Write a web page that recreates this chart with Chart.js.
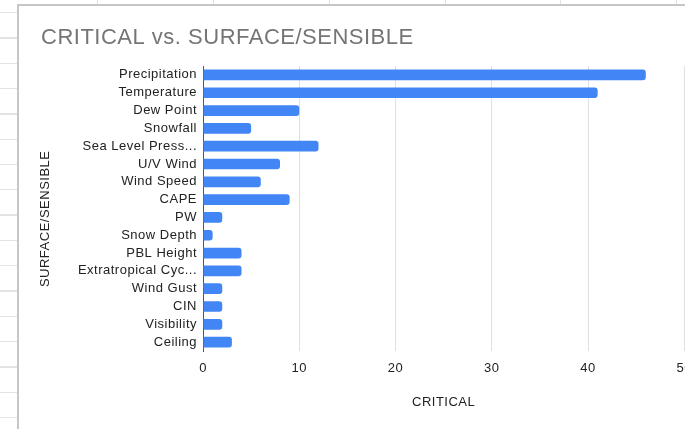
<!DOCTYPE html>
<html>
<head>
<meta charset="utf-8">
<script src="https://cdn.jsdelivr.net/npm/chart.js@4"></script>
<style>
  html, body { margin: 0; padding: 0; background: #fff; overflow: hidden; width: 685px; height: 429px; }
  #sheetLeft { position: absolute; left: 0; top: 0; width: 17px; height: 429px;
    background: repeating-linear-gradient(to bottom, transparent 0px, transparent 12px, #e3e3e3 12px, #e3e3e3 13.3px, transparent 13.3px, transparent 25.3px); }
  #sheetTop { position: absolute; left: 0; top: 0; width: 685px; height: 4px; }
  .vline { position: absolute; top: 0; width: 1px; height: 4px; background: #e3e3e3; }
  #frame { position: absolute; left: 17px; top: 4px; width: 800px; height: 600px;
    border-left: 2px solid #c6c6c6; border-top: 2px solid #c6c6c6; box-sizing: border-box; }
  #c { position: absolute; left: 0; top: 0; }
</style>
</head>
<body>
<div id="sheetLeft"></div>
<div id="sheetTop">
  <div class="vline" style="left:97px"></div>
  <div class="vline" style="left:213px"></div>
  <div class="vline" style="left:329px"></div>
  <div class="vline" style="left:445px"></div>
  <div class="vline" style="left:560px"></div>
  <div class="vline" style="left:676px"></div>
</div>
<div id="frame"></div>
<canvas id="c" width="702" height="429"></canvas>
<script>
const categories = [
  "Precipitation", "Temperature", "Dew Point", "Snowfall", "Sea Level Press...",
  "U/V Wind", "Wind Speed", "CAPE", "PW", "Snow Depth", "PBL Height",
  "Extratropical Cyc...", "Wind Gust", "CIN", "Visibility", "Ceiling"
];
const criticalValues = [46, 41, 10, 5, 12, 8, 6, 9, 2, 1, 4, 4, 2, 2, 2, 3];
const xTicks = [0, 10, 20, 30, 40, 50];
const chartTitle = "CRITICAL vs. SURFACE/SENSIBLE";
const xTitle = "CRITICAL";
const yTitle = "SURFACE/SENSIBLE";

const FONT = "'Liberation Sans', Arial, sans-serif";

const spacingPlugin = {
  id: 'spacing',
  beforeLayout(chart) { chart.ctx.letterSpacing = '0.5px'; },
  beforeDraw(chart) { chart.ctx.letterSpacing = '0.5px'; }
};

new Chart(document.getElementById('c'), {
  type: 'bar',
  plugins: [spacingPlugin],
  data: {
    labels: categories,
    datasets: [{
      label: xTitle,
      data: criticalValues,
      backgroundColor: '#4285f4',
      borderRadius: 3,
      borderSkipped: 'start',
      barPercentage: 0.6,
      categoryPercentage: 1.0
    }]
  },
  options: {
    indexAxis: 'y',
    responsive: false,
    animation: false,
    devicePixelRatio: 1,
    layout: { padding: { left: 41, right: 10, top: 0, bottom: 15 } },
    plugins: {
      legend: { display: false },
      tooltip: { enabled: false },
      title: {
        display: true,
        text: chartTitle,
        align: 'start',
        color: '#757575',
        font: { family: FONT, size: 22, weight: 'normal' },
        padding: { top: 25, bottom: 14.6 }
      }
    },
    scales: {
      x: {
        type: 'linear',
        min: xTicks[0],
        max: xTicks[xTicks.length - 1],
        afterBuildTicks: (scale) => { scale.ticks = xTicks.map(v => ({ value: v })); },
        afterFit: (scale) => { scale.height = 63; },
        grid: { color: '#e0e0e0', lineWidth: 1, drawTicks: false },
        border: { display: false },
        ticks: { color: '#222', font: { family: FONT, size: 13 }, padding: 10 },
        title: { display: true, text: xTitle, color: '#222', font: { family: FONT, size: 13 }, padding: { top: 4, bottom: 4 } }
      },
      y: {
        afterFit: (scale) => { scale.width = 162; },
        grid: { display: false, drawTicks: false },
        border: { display: true, color: '#555', width: 1 },
        ticks: { color: '#222', font: { family: FONT, size: 13 }, padding: 6, autoSkip: false },
        title: { display: true, text: yTitle + '     ', color: '#222', font: { family: FONT, size: 13 }, padding: { top: -3, bottom: 0 } }
      }
    }
  }
});
</script>
</body>
</html>
